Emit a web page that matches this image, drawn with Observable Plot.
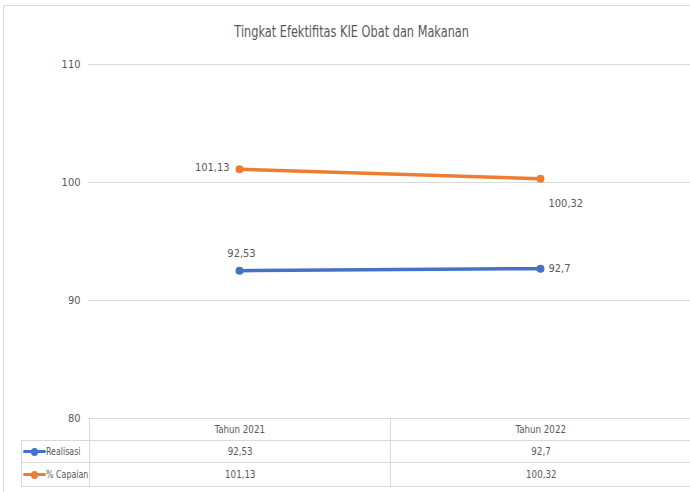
<!DOCTYPE html>
<html><head><meta charset="utf-8">
<script src="https://cdn.jsdelivr.net/npm/d3@7"></script>
<script src="https://cdn.jsdelivr.net/npm/@observablehq/plot@0.6"></script>
<style>
body{margin:0;background:#fff;}
#wrap{position:relative;width:690px;height:492px;overflow:hidden;font-family:"Liberation Sans Narrow","DejaVu Sans Condensed","Open Sans",sans-serif;color:#595959;}
#frame{position:absolute;left:3px;top:5px;width:720px;height:520px;border:1px solid #d9d9d9;box-sizing:border-box;}
#title{position:absolute;top:22px;left:0;width:704px;text-align:center;font-size:15px;line-height:20px;}
#title span{display:inline-block;transform:scaleX(0.84);transform-origin:center;}
#chart{position:absolute;left:0;top:0;}
.cell{position:absolute;box-sizing:border-box;border:1px solid #d9d9d9;font-size:11px;display:flex;align-items:center;justify-content:center;white-space:nowrap;}
.cell .t{display:inline-block;transform:scaleX(0.88);}
.leg{justify-content:flex-start;padding-left:1px;overflow:visible;}
.leg .t{transform:scaleX(0.8);transform-origin:left center;}
.sw{position:relative;width:23px;height:8px;flex:none;}
.sw .ln{position:absolute;left:0;top:2.5px;width:23px;height:3px;border-radius:2px;}
.sw .dt{position:absolute;left:8px;top:0;width:7px;height:8px;border-radius:50%;}
</style></head>
<body><div id="wrap"><div id="frame"></div><div id="title"></div><div id="chart"></div></div>
<script>
const title = "Tingkat Efektifitas KIE Obat dan Makanan";
const categories = ["Tahun 2021", "Tahun 2022"];
const seriesNames = ["Realisasi", "% Capaian"];
const seriesColors = ["#4472C4", "#ED7D31"];
const realisasi = [92.53, 92.7];
const capaian = [101.13, 100.32];
const yTicks = [80, 90, 100, 110];

const fmt = v => String(v).replace(".", ",");
const data = [
  ...categories.map((c, i) => ({cat: c, series: seriesNames[0], value: realisasi[i]})),
  ...categories.map((c, i) => ({cat: c, series: seriesNames[1], value: capaian[i]}))
];
const pick = (s, c) => data.filter(d => d.series === s && d.cat === c);
const lbl = {fill: "#595959", fontSize: 11, text: d => fmt(d.value), x: "cat", y: "value"};

document.getElementById("title").innerHTML = `<span>${title}</span>`;

const chart = Plot.plot({
  width: 690, height: 492,
  marginTop: 64, marginBottom: 74, marginLeft: 88, marginRight: 0,
  style: {color: "#595959", fontFamily: "'Liberation Sans Narrow','DejaVu Sans Condensed','Open Sans',sans-serif", fontSize: "11px", background: "transparent"},
  x: {type: "point", domain: categories, padding: 0.5, axis: null},
  y: {domain: [80, 110], ticks: yTicks, tickSize: 0, tickPadding: 8, label: null},
  color: {domain: seriesNames, range: seriesColors},
  marks: [
    Plot.ruleY(yTicks, {stroke: "#d9d9d9", strokeWidth: 1}),
    Plot.line(data, {x: "cat", y: "value", z: "series", stroke: "series", strokeWidth: 3.5, strokeLinecap: "round"}),
    Plot.dot(data, {x: "cat", y: "value", fill: "series", r: 4, stroke: null}),
    Plot.text(pick(seriesNames[1], categories[0]), {...lbl, textAnchor: "end", dx: -10, dy: -2}),
    Plot.text(pick(seriesNames[1], categories[1]), {...lbl, textAnchor: "start", dx: 8, dy: 25}),
    Plot.text(pick(seriesNames[0], categories[0]), {...lbl, textAnchor: "middle", dx: 2, dy: -17}),
    Plot.text(pick(seriesNames[0], categories[1]), {...lbl, textAnchor: "start", dx: 8, dy: 0})
  ]
});
document.getElementById("chart").appendChild(chart);

// data table below the plot, aligned on the plot's x scale
const xs = chart.scale("x");
const xpos = categories.map(c => xs.apply(c));
const step = xpos[1] - xpos[0];
const wrap = document.getElementById("wrap");
const rows = [418, 440, 462, 486];
const leftX = 21;
function cell(x, y, w, h, html, cls) {
  const d = document.createElement("div");
  d.className = "cell" + (cls ? " " + cls : "");
  Object.assign(d.style, {left: x + "px", top: y + "px", width: (w + 1) + "px", height: (h + 1) + "px"});
  d.innerHTML = html;
  wrap.appendChild(d);
}
categories.forEach((c, i) => {
  const x0 = Math.round(xpos[i] - step / 2);
  cell(x0, rows[0], Math.round(step), rows[1] - rows[0], `<span class="t">${c}</span>`);
});
const seriesVals = [realisasi, capaian];
seriesNames.forEach((s, j) => {
  const y0 = rows[j + 1], h = rows[j + 2] - rows[j + 1];
  const x0 = Math.round(xpos[0] - step / 2);
  cell(leftX, y0, x0 - leftX, h,
    `<span class="sw"><span class="ln" style="background:${seriesColors[j]}"></span><span class="dt" style="background:${seriesColors[j]}"></span></span><span class="t">${s}</span>`, "leg");
  categories.forEach((c, i) => {
    cell(Math.round(xpos[i] - step / 2), y0, Math.round(step), h, `<span class="t">${fmt(seriesVals[j][i])}</span>`);
  });
});
</script></body></html>
